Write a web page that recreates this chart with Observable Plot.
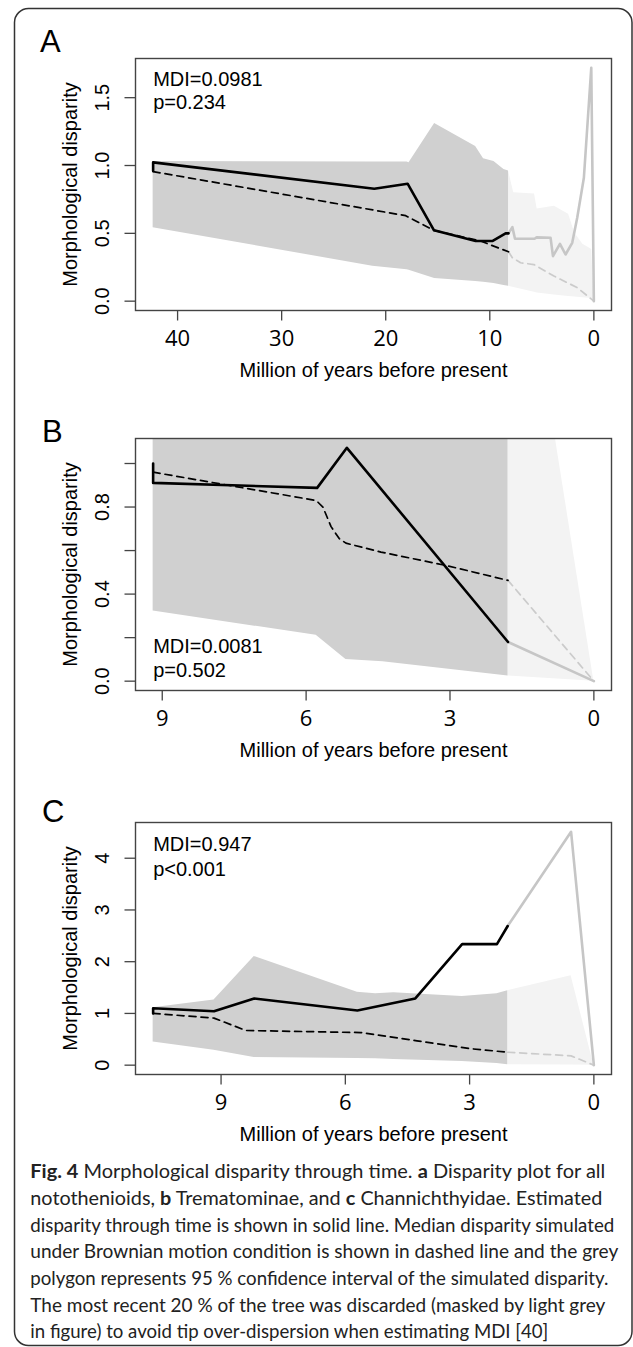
<!DOCTYPE html>
<html><head><meta charset="utf-8">
<script src="https://cdn.jsdelivr.net/npm/d3@7"></script>
<script src="https://cdn.jsdelivr.net/npm/@observablehq/plot@0.6"></script>
<style>
html,body{margin:0;padding:0;background:#fff;}
#wrap{position:relative;width:633px;height:1347px;overflow:hidden;background:#fff;}
#wrap svg.pl{position:absolute;left:0;}
#bg{position:absolute;left:0;top:0;}
</style></head><body><div id="wrap"></div>
<script>
// ---------- Panel A: all notothenioids ----------
const A_obsT = [42.35, 42.35, 21.1, 17.9, 15.36, 11.36, 9.76, 8.48, 8.2, 7.83, 7.58, 5.7, 5.5, 4.16, 3.93, 3.26, 2.72, 2.08, 1.6, 0.96, 0.25, 0];
const A_obsV = [0.96, 1.023, 0.829, 0.866, 0.522, 0.443, 0.443, 0.50, 0.50, 0.546, 0.46, 0.46, 0.47, 0.467, 0.332, 0.423, 0.344, 0.43, 0.615, 0.91, 1.72, 0.0];
const A_medT = [42.35, 18.08, 15.36, 10.88, 8.2, 7.83, 7.04, 5.76, 3.84, 1.6, 0];
const A_medV = [0.955, 0.63, 0.522, 0.443, 0.364, 0.32, 0.283, 0.27, 0.185, 0.1, 0.0];
const A_ciT  = [42.35, 21.25, 17.95, 17.76, 15.3, 11.36, 10.6, 9.6, 8.64, 8.2, 7.7, 5.7, 5.45, 3.8, 2.43, 1.83, 1.06, 0.2, 0];
const A_ciHi = [1.03, 1.026, 1.025, 1.02, 1.31, 1.14, 1.05, 1.03, 0.97, 0.96, 0.80, 0.79, 0.68, 0.70, 0.64, 0.50, 0.42, 0.38, 0];
const A_ciLo = [0.541, 0.258, 0.232, 0.228, 0.167, 0.145, 0.14, 0.13, 0.115, 0.11, 0.10, 0.065, 0.06, 0.045, 0.035, 0.03, 0.025, 0.02, 0];
const A_cut = 8.2;
const A_xTicks = [40, 30, 20, 10, 0];
const A_yTicks = [0, 0.5, 1.0, 1.5];
const A_yLabels = ["0.0", "0.5", "1.0", "1.5"];
const A_stats = ["MDI=0.0981", "p=0.234"];

// ---------- Panel B: Trematominae ----------
const B_obsT = [9.19, 9.19, 5.77, 5.15, 1.79, 0];
const B_obsV = [1.0, 0.911, 0.888, 1.072, 0.18, 0];
const B_medT = [9.19, 5.79, 5.65, 5.48, 5.31, 5.17, 4.44, 3.09, 1.79, 0];
const B_medV = [0.96, 0.83, 0.80, 0.71, 0.655, 0.634, 0.593, 0.532, 0.463, 0];
const B_ciT  = [9.19, 5.79, 5.17, 4.4, 1.79, 0];
const B_ciHi = [1.5, 1.6, 1.8, 1.9, 2.49, 0];
const B_ciLo = [0.322, 0.211, 0.10, 0.089, 0.024, 0];
const B_cut = 1.79;
const B_xTicks = [9, 6, 3, 0];
const B_yTicks = [0, 0.2, 0.4, 0.6, 0.8, 1.0];
const B_yLabels = ["0.0", "", "0.4", "", "0.8", ""];
const B_stats = ["MDI=0.0081", "p=0.502"];

// ---------- Panel C: Channichthyidae ----------
const C_obsT = [10.64, 10.64, 9.17, 8.2, 5.71, 4.31, 3.18, 2.34, 2.08, 0.55, 0];
const C_obsV = [1.0, 1.10, 1.043, 1.29, 1.056, 1.29, 2.34, 2.34, 2.69, 4.51, 0];
const C_medT = [10.64, 9.17, 8.4, 5.63, 4.27, 3.0, 2.08, 0.55, 0];
const C_medV = [1.0, 0.91, 0.67, 0.63, 0.47, 0.32, 0.25, 0.18, 0];
const C_ciT  = [10.64, 9.17, 8.2, 5.71, 5.27, 4.83, 3.18, 2.34, 2.08, 0.55, 0];
const C_ciHi = [1.11, 1.26, 2.10, 1.41, 1.38, 1.40, 1.325, 1.38, 1.44, 1.73, 0];
const C_ciLo = [0.45, 0.29, 0.15, 0.13, 0.125, 0.11, 0.07, 0.03, 0.01, 0.005, 0];
const C_cut = 2.08;
const C_xTicks = [9, 6, 3, 0];
const C_yTicks = [0, 1, 2, 3, 4];
const C_yLabels = ["0", "1", "2", "3", "4"];
const C_stats = ["MDI=0.947", "p<0.001"];

const panelLetters = ["A", "B", "C"];
const xTitle = "Million of years before present";
const yTitle = "Morphological disparity";

const captionLines = [
  [["Fig. 4", 1], [" Morphological disparity through time. ", 0], ["a", 1], [" Disparity plot for all", 0]],
  [["notothenioids, ", 0], ["b", 1], [" Trematominae, and ", 0], ["c", 1], [" Channichthyidae. Estimated", 0]],
  [["disparity through time is shown in solid line. Median disparity simulated", 0]],
  [["under Brownian motion condition is shown in dashed line and the grey", 0]],
  [["polygon represents 95 % confidence interval of the simulated disparity.", 0]],
  [["The most recent 20 % of the tree was discarded (masked by light grey", 0]],
  [["in figure) to avoid tip over-dispersion when estimating MDI [40]", 0]]
];

// ---------- layout ----------
const W = 633, FRAME_H = 252, MT = 40, MB = 95, ML = 135, MR = 22;
const frameTops = [58, 438, 822];
const letterPos = [[40, 52], [42, 441.5], [42, 821.5]];
const capBaselines = [1178.3, 1205, 1231.7, 1258.3, 1285, 1311.7, 1338.3];
const capWidths = [575, 572, 584, 588, 578, 575, 518];

function zip(T, V) { return T.map((t, i) => ({t, v: V[i]})); }

function panel(o) {
  const obs = zip(o.obsT, o.obsV), med = zip(o.medT, o.medV);
  const ci = o.ciT.map((t, i) => ({t, lo: o.ciLo[i], hi: o.ciHi[i]}));
  const start = o.obsT[0];
  const tmax = start, ext = tmax * 0.04;
  const vmax = d3.max(o.obsV), vext = vmax * 0.04;
  const pre = d => d.t >= o.cut, post = d => d.t <= o.cut;
  const fmt = d => o.yLabels[o.yTicks.indexOf(d)];
  const stat = o.stats.map((s, i) => ({t: start, s, i}));
  const svg = Plot.plot({
    width: W, height: MT + FRAME_H + MB,
    marginTop: MT, marginBottom: MB, marginLeft: ML, marginRight: MR,
    style: {fontFamily: "'Liberation Sans', Arial, sans-serif", fontSize: "20px", background: "transparent", overflow: "visible", color: "#000"},
    x: {domain: [tmax + ext, -ext]},
    y: {domain: [-vext, vmax + vext]},
    marks: [
      Plot.areaY(ci.filter(post), {x: "t", y1: "lo", y2: "hi", fill: "#f3f3f3", clip: true}),
      Plot.areaY(ci.filter(pre), {x: "t", y1: "lo", y2: "hi", fill: "#d0d0d0", clip: true}),
      Plot.line(med.filter(post), {x: "t", y: "v", stroke: "#cbcbcb", strokeWidth: 1.7, strokeDasharray: "7,5", clip: true}),
      Plot.line(obs.filter(post), {x: "t", y: "v", stroke: "#c6c6c6", strokeWidth: 2.6, clip: true}),
      Plot.line(med.filter(pre), {x: "t", y: "v", stroke: "#000", strokeWidth: 1.7, strokeDasharray: "7,5", clip: true}),
      Plot.line(obs.filter(pre), {x: "t", y: "v", stroke: "#000", strokeWidth: 2.6, clip: true}),
      Plot.frame({stroke: "#444", strokeWidth: 1.4}),
      Plot.axisY({ticks: o.yTicks, tickFormat: fmt, tickSize: 10.5, tickPadding: 16, tickRotate: -90, stroke: "#444", strokeWidth: 1.3, label: null, fontSize: 20}),
      Plot.axisY({ticks: [], label: yTitle, labelAnchor: "center", labelOffset: 73, labelArrow: false, fontSize: 20}),
      Plot.axisX({ticks: o.xTicks, tickSize: 10.5, tickPadding: 9.5, stroke: "#444", strokeWidth: 1.3, label: null, fontFamily: "'Open Sans', sans-serif", fontSize: 22}),
      Plot.axisX({ticks: [], label: xTitle, labelAnchor: "center", labelOffset: 66, labelArrow: false, fontSize: 20}),
      Plot.text(stat, {x: "t", text: "s", frameAnchor: o.statAnchor, textAnchor: "start", lineAnchor: "bottom", fontSize: 20, fill: "#000"})
    ]
  });
  return svg;
}

const panels = [
  {obsT: A_obsT, obsV: A_obsV, medT: A_medT, medV: A_medV, ciT: A_ciT, ciLo: A_ciLo, ciHi: A_ciHi, cut: A_cut, xTicks: A_xTicks, yTicks: A_yTicks, yLabels: A_yLabels, stats: A_stats, statAnchor: "top", statDy: [27, 50.3]},
  {obsT: B_obsT, obsV: B_obsV, medT: B_medT, medV: B_medV, ciT: B_ciT, ciLo: B_ciLo, ciHi: B_ciHi, cut: B_cut, xTicks: B_xTicks, yTicks: B_yTicks, yLabels: B_yLabels, stats: B_stats, statAnchor: "bottom", statDy: [-37.3, -13.3]},
  {obsT: C_obsT, obsV: C_obsV, medT: C_medT, medV: C_medV, ciT: C_ciT, ciLo: C_ciLo, ciHi: C_ciHi, cut: C_cut, xTicks: C_xTicks, yTicks: C_yTicks, yLabels: C_yLabels, stats: C_stats, statAnchor: "top", statDy: [28, 53]}
];

const wrap = document.getElementById("wrap");
const NS = "http://www.w3.org/2000/svg";
const bg = document.createElementNS(NS, "svg");
bg.setAttribute("id", "bg"); bg.setAttribute("width", W); bg.setAttribute("height", 1347);
const rect = document.createElementNS(NS, "rect");
Object.entries({x: 14.5, y: 8.5, width: 617.5, height: 1337, rx: 14, fill: "none", stroke: "#333", "stroke-width": 1.5}).forEach(([k, v]) => rect.setAttribute(k, v));
bg.appendChild(rect);
panelLetters.forEach((L, i) => {
  const t = document.createElementNS(NS, "text");
  t.setAttribute("x", letterPos[i][0]); t.setAttribute("y", letterPos[i][1]);
  t.setAttribute("font-family", "'Liberation Sans', Arial, sans-serif");
  t.setAttribute("font-size", 31); t.textContent = L;
  bg.appendChild(t);
});
captionLines.forEach((parts, i) => {
  const t = document.createElementNS(NS, "text");
  t.setAttribute("x", 30.3); t.setAttribute("y", capBaselines[i]);
  t.setAttribute("font-family", "Lato, 'Open Sans', sans-serif");
  t.setAttribute("font-size", 18.5); t.setAttribute("fill", "#222");
  t.setAttribute("textLength", capWidths[i]); t.setAttribute("lengthAdjust", "spacingAndGlyphs");
  t.setAttribute("xml:space", "preserve");
  parts.forEach(([s, b]) => {
    const sp = document.createElementNS(NS, "tspan");
    if (b) sp.setAttribute("font-weight", "bold");
    sp.textContent = s; t.appendChild(sp);
  });
  bg.appendChild(t);
});
wrap.appendChild(bg);

panels.forEach((o, i) => {
  const svg = panel(o);
  svg.classList.add("pl");
  svg.style.top = (frameTops[i] - MT) + "px";
  const texts = svg.querySelectorAll("g[aria-label='text'] text");
  texts.forEach((el, j) => el.setAttribute("transform", (el.getAttribute("transform") || "") + ` translate(0,${o.statDy[j]})`));
  wrap.appendChild(svg);
});
</script></body></html>
